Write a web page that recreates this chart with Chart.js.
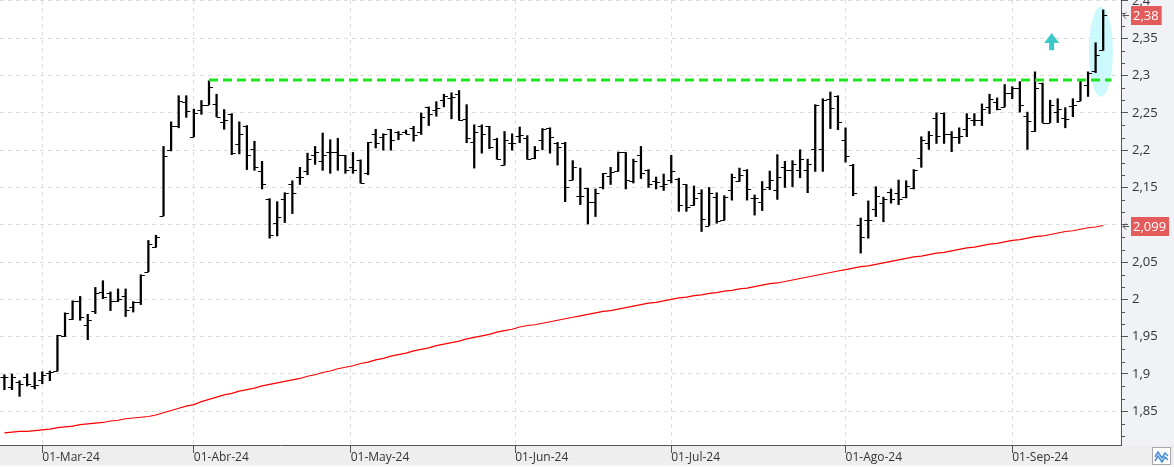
<!DOCTYPE html>
<html>
<head>
<meta charset="utf-8">
<script src="https://cdn.jsdelivr.net/npm/chart.js@4.4.1/dist/chart.umd.min.js"></script>
<style>
html,body{margin:0;padding:0;background:#fff;}
#wrap{width:1174px;height:467px;position:relative;}
</style>
</head>
<body>
<div id="wrap"><canvas id="myChart"></canvas></div>
<script>
// precios diarios (apertura, maximo, minimo, cierre)
var opens = [1.896,1.883,1.889,1.896,1.884,1.892,1.901,1.904,1.951,1.974,1.998,1.966,1.984,2.010,2.009,1.998,2.005,1.990,1.996,2.037,2.070,2.112,2.200,2.232,2.265,2.218,
    2.2545,2.261,2.262,2.2375,2.249,2.208,2.233,2.201,2.172,2.135,2.102,2.135,2.154,2.164,2.172,2.193,2.185,2.197,2.198,2.193,2.178,2.187,2.169,2.222,2.218,2.228,2.225,2.224,2.230,
    2.224,2.258,2.2545,2.267,2.270,2.275,2.242,2.2105,2.233,2.232,2.2155,2.180,2.210,2.2195,2.2165,2.189,2.214,2.230,2.209,2.2095,2.160,2.139,2.149,2.130,2.150,2.165,2.1715,2.197,2.159,
    2.194,2.174,2.159,2.152,2.160,2.161,2.154,2.126,2.142,2.099,2.1375,2.107,2.1465,2.159,2.174,2.136,2.131,2.151,2.1465,2.177,2.174,2.174,2.173,2.202,2.202,2.269,2.272,2.214,2.180,
    2.100,2.107,2.121,2.129,2.144,2.143,2.137,2.149,2.190,2.210,2.243,2.250,2.222,2.218,2.229,2.241,2.241,2.258,2.265,2.258,2.277,2.284,2.246,2.226,2.290,2.237,2.251,2.243,2.259,2.266,2.288,2.306,2.334];
var highs = [1.899,1.900,1.891,1.900,1.902,1.903,1.904,1.952,1.982,1.998,2.004,1.980,2.016,2.025,2.010,2.014,2.014,1.997,2.033,2.079,2.086,2.205,2.238,2.273,2.273,2.255,
    2.2666,2.293,2.275,2.2545,2.249,2.238,2.233,2.212,2.185,2.135,2.131,2.143,2.159,2.177,2.196,2.205,2.223,2.214,2.216,2.193,2.197,2.187,2.2105,2.228,2.222,2.228,2.225,2.227,2.232,
    2.250,2.258,2.265,2.275,2.277,2.280,2.261,2.234,2.234,2.232,2.216,2.225,2.222,2.231,2.2195,2.205,2.229,2.230,2.2105,2.2105,2.186,2.176,2.149,2.148,2.169,2.177,2.1975,2.197,2.188,
    2.205,2.174,2.164,2.168,2.193,2.1625,2.154,2.152,2.147,2.150,2.143,2.139,2.168,2.176,2.174,2.140,2.158,2.172,2.194,2.185,2.186,2.2005,2.188,2.261,2.269,2.278,2.273,2.230,2.181,
    2.109,2.132,2.151,2.137,2.148,2.160,2.159,2.174,2.218,2.225,2.250,2.250,2.225,2.230,2.249,2.249,2.262,2.275,2.270,2.288,2.285,2.292,2.251,2.305,2.290,2.267,2.269,2.257,2.269,2.295,2.305,2.344,2.388];
var lows = [1.879,1.879,1.870,1.884,1.880,1.887,1.891,1.904,1.950,1.973,1.972,1.946,1.981,2.001,1.985,1.997,1.977,1.983,1.993,2.037,2.070,2.112,2.199,2.230,2.244,2.218,
    2.248,2.261,2.245,2.228,2.194,2.195,2.174,2.173,2.148,2.082,2.085,2.103,2.115,2.154,2.167,2.181,2.173,2.169,2.173,2.169,2.169,2.156,2.167,2.203,2.200,2.200,2.214,2.222,2.212,
    2.221,2.233,2.2455,2.258,2.242,2.240,2.210,2.176,2.196,2.202,2.188,2.180,2.200,2.210,2.188,2.1885,2.2005,2.196,2.180,2.131,2.160,2.127,2.101,2.111,2.148,2.154,2.1715,2.148,2.156,
    2.162,2.150,2.148,2.146,2.156,2.118,2.118,2.126,2.091,2.099,2.102,2.106,2.133,2.158,2.133,2.113,2.119,2.147,2.134,2.150,2.151,2.163,2.143,2.1715,2.1715,2.229,2.2275,2.184,2.139,
    2.062,2.082,2.111,2.104,2.129,2.127,2.136,2.148,2.177,2.201,2.209,2.209,2.198,2.209,2.218,2.233,2.233,2.249,2.254,2.258,2.269,2.251,2.201,2.225,2.237,2.237,2.237,2.230,2.245,2.266,2.272,2.304,2.334];
var closes = [1.896,1.896,1.887,1.886,1.885,1.898,1.902,1.952,1.982,1.998,1.977,1.973,2.009,2.003,1.998,2.001,1.986,1.996,2.033,2.074,2.084,2.192,2.233,2.266,2.253,2.250,
    2.261,2.285,2.245,2.241,2.196,2.222,2.193,2.177,2.154,2.086,2.111,2.143,2.143,2.164,2.188,2.198,2.193,2.197,2.193,2.174,2.174,2.156,2.2105,2.209,2.222,2.214,2.222,2.222,2.221,
    2.245,2.249,2.257,2.272,2.2715,2.241,2.2165,2.225,2.222,2.204,2.188,2.214,2.210,2.221,2.188,2.2005,2.229,2.218,2.204,2.150,2.177,2.139,2.130,2.143,2.169,2.171,2.1975,2.160,2.185,
    2.169,2.154,2.157,2.154,2.172,2.127,2.124,2.136,2.108,2.143,2.105,2.137,2.164,2.1665,2.148,2.136,2.148,2.160,2.164,2.173,2.1815,2.1885,2.182,2.261,2.267,2.257,2.238,2.192,2.1425,
    2.083,2.107,2.139,2.135,2.135,2.135,2.152,2.173,2.214,2.221,2.219,2.222,2.218,2.219,2.243,2.241,2.255,2.268,2.255,2.277,2.283,2.261,2.239,2.284,2.237,2.260,2.255,2.242,2.261,2.294,2.304,2.328,2.381];
// media movil (linea roja)
var ma = [1.821,1.822,1.823,1.823,1.824,1.825,1.826,1.828,1.829,1.830,
    1.832,1.833,1.834,1.835,1.837,1.838,1.840,1.841,1.842,1.843,
    1.845,1.848,1.851,1.854,1.857,1.859,1.863,1.866,1.869,1.872,
    1.874,1.877,1.879,1.881,1.884,1.886,1.888,1.890,1.892,1.894,
    1.897,1.899,1.902,1.904,1.907,1.909,1.911,1.914,1.916,1.919,
    1.921,1.924,1.926,1.928,1.931,1.933,1.935,1.938,1.940,1.942,
    1.944,1.947,1.949,1.951,1.953,1.956,1.958,1.960,1.963,1.965,
    1.966,1.968,1.970,1.972,1.974,1.976,1.978,1.980,1.982,1.984,
    1.985,1.987,1.989,1.991,1.993,1.995,1.996,1.998,2.000,2.002,
    2.003,2.005,2.006,2.008,2.009,2.011,2.012,2.014,2.015,2.017,
    2.019,2.021,2.022,2.024,2.026,2.028,2.030,2.032,2.034,2.036,
    2.038,2.040,2.042,2.044,2.045,2.047,2.049,2.051,2.053,2.055,
    2.057,2.058,2.060,2.062,2.063,2.065,2.067,2.069,2.070,2.072,
    2.074,2.075,2.077,2.079,2.080,2.082,2.084,2.085,2.087,2.089,
    2.091,2.092,2.094,2.096,2.097,2.099];
var monthIdx = [5, 25, 45.7, 67.4, 88, 111, 133];//primer dia de cada mes
var monthLabels = ['01-Mar-24', '01-Abr-24', '01-May-24', '01-Jun-24', '01-Jul-24', '01-Ago-24', '01-Sep-24'];
var resistance = 2.294;//linea verde
var resFrom = 27;
var resTo = 146.1;
var yMin = 1.8048;
var yMax = 2.4013;
var xMin = -0.58;
var xMax = 147.35;

var hl = [];
var maPts = [];
for (var i = 0; i < highs.length; i++) {
    hl.push({x: i, y: [lows[i], highs[i]]});
    maPts.push({x: i, y: ma[i]});
}

function fmt(v) {
    return String(Math.round(v * 100) / 100).replace('.', ',');
}

var extras = {
    id: 'extras',
    beforeDraw: function (chart) {
        var ctx = chart.ctx, a = chart.chartArea;
        ctx.save();
        ctx.fillStyle = '#f1f2f5';
        ctx.fillRect(a.right, 0, chart.width - a.right, chart.height);
        ctx.fillStyle = '#eeeeee';
        ctx.fillRect(0, a.bottom, chart.width, chart.height - a.bottom);
        ctx.fillStyle = '#fafafa';
        ctx.fillRect(0, chart.height - 2, chart.width, 2);
        ctx.restore();
    },
    beforeDatasetsDraw: function (chart) {
        var ctx = chart.ctx, xs = chart.scales.x, ys = chart.scales.y;
        // elipse celeste sobre las ultimas velas
        ctx.save();
        ctx.fillStyle = '#ccf9fd';
        ctx.beginPath();
        ctx.ellipse(xs.getPixelForValue(144.7), ys.getPixelForValue(2.332), 12, 45, 0, 0, Math.PI * 2);
        ctx.fill();
        ctx.restore();
    },
    afterDatasetDraw: function (chart, args) {
        if (args.index !== 0) return;
        var ctx = chart.ctx, xs = chart.scales.x, ys = chart.scales.y;
        ctx.save();
        ctx.strokeStyle = '#000';
        ctx.lineWidth = 1.2;
        ctx.beginPath();
        for (var i = 0; i < opens.length; i++) {
            var x = xs.getPixelForValue(i);
            var yo = Math.round(ys.getPixelForValue(opens[i])) + 0.5;
            var yc = Math.round(ys.getPixelForValue(closes[i])) + 0.5;
            ctx.moveTo(x - 4, yo); ctx.lineTo(x, yo);
            ctx.moveTo(x, yc); ctx.lineTo(x + 4, yc);
        }
        ctx.stroke();
        ctx.restore();
    },
    afterDatasetsDraw: function (chart) {
        var ctx = chart.ctx, xs = chart.scales.x, ys = chart.scales.y;
        // flecha hacia arriba
        var ax = xs.getPixelForValue(138.2);
        var top = ys.getPixelForValue(2.357);
        var bot = ys.getPixelForValue(2.334);
        ctx.save();
        ctx.fillStyle = '#3cc8c8';
        ctx.beginPath();
        ctx.moveTo(ax, top);
        ctx.lineTo(ax + 7.5, top + 10);
        ctx.lineTo(ax + 2.5, top + 10);
        ctx.lineTo(ax + 2.5, bot);
        ctx.lineTo(ax - 2.5, bot);
        ctx.lineTo(ax - 2.5, top + 10);
        ctx.lineTo(ax - 7.5, top + 10);
        ctx.closePath();
        ctx.fill();
        ctx.restore();
    },
    afterDraw: function (chart) {
        var ctx = chart.ctx, a = chart.chartArea, ys = chart.scales.y;
        ctx.save();
        // marcas menores del eje y
        ctx.strokeStyle = '#555';
        ctx.lineWidth = 1;
        ctx.beginPath();
        for (var k = Math.ceil(yMin * 60); k <= Math.floor(yMax * 60); k++) {
            if (k % 3 === 0) continue;
            var y = Math.round(ys.getPixelForValue(k / 60)) + 0.5;
            ctx.moveTo(a.right, y); ctx.lineTo(a.right + 4, y);
        }
        ctx.stroke();

        function priceBox(v, txt) {
            var y = Math.round(ys.getPixelForValue(v));
            ctx.font = '13px "Open Sans"';
            var w = ctx.measureText(txt).width + 5;
            ctx.fillStyle = '#e35b5b';
            ctx.fillRect(a.right + 10, y - 9, w, 19);
            ctx.fillStyle = '#fff';
            ctx.textBaseline = 'middle';
            ctx.textAlign = 'left';
            ctx.fillText(txt, a.right + 12, y + 1);
            ctx.strokeStyle = '#555';
            ctx.beginPath();
            ctx.moveTo(a.right + 2, y + 0.5); ctx.lineTo(a.right + 8, y + 0.5);
            ctx.moveTo(a.right + 5, y - 2.5); ctx.lineTo(a.right + 2, y + 0.5); ctx.lineTo(a.right + 5, y + 3.5);
            ctx.stroke();
        }
        priceBox(closes[closes.length - 1], closes[closes.length - 1].toFixed(2).replace('.', ','));
        priceBox(ma[ma.length - 1], ma[ma.length - 1].toFixed(3).replace('.', ','));

        // boton abajo a la derecha
        ctx.fillStyle = '#fff';
        ctx.fillRect(1152.5, 447.5, 18, 17);
        ctx.strokeStyle = '#a8a8a8';
        ctx.strokeRect(1152.5, 447.5, 18, 17);
        ctx.strokeStyle = '#4a90d9';
        ctx.lineWidth = 1.5;
        ctx.beginPath();
        ctx.moveTo(1155, 457); ctx.lineTo(1158, 452); ctx.lineTo(1162, 458); ctx.lineTo(1165, 453); ctx.lineTo(1168, 456);
        ctx.moveTo(1155, 461); ctx.lineTo(1158, 456); ctx.lineTo(1162, 462); ctx.lineTo(1165, 457); ctx.lineTo(1168, 460);
        ctx.stroke();
        ctx.restore();
    }
};

var ctx = document.getElementById('myChart').getContext('2d');
var myChart = new Chart(ctx, {
    type: 'bar',
    data: {
        datasets: [{
            label: 'ohlc',
            data: hl,
            backgroundColor: '#000',
            borderWidth: 0,
            barThickness: 1.6,
            order: 3
        }, {
            type: 'line',
            label: 'media',
            data: maPts,
            borderColor: '#ff0000',
            borderWidth: 1.2,
            pointRadius: 0,
            tension: 0,
            order: 2
        }, {
            type: 'line',
            label: 'resistencia',
            data: [{x: resFrom, y: resistance}, {x: resTo, y: resistance}],
            borderColor: '#1ee61e',
            borderWidth: 3,
            borderDash: [9, 5],
            pointRadius: 0,
            order: 1
        }]
    },
    options: {
        responsive: true,
        maintainAspectRatio: false,
        animation: false,
        layout: {padding: 0},
        plugins: {
            legend: {display: false},
            tooltip: {enabled: false}
        },
        scales: {
            x: {
                type: 'linear',
                min: xMin,
                max: xMax,
                offset: false,
                afterBuildTicks: function (scale) {
                    scale.ticks = monthIdx.map(function (v) { return {value: v}; });
                },
                afterFit: function (scale) {
                    scale.height = 22;
                    scale.paddingLeft = 0;
                    scale.paddingRight = 0;
                },
                grid: {
                    offset: false,
                    color: '#dddddd',
                    tickColor: '#555',
                    tickLength: 8
                },
                border: {color: '#555', dash: [4, 4]},
                ticks: {
                    autoSkip: false,
                    maxRotation: 0,
                    align: 'start',
                    padding: -3,
                    color: '#333',
                    font: {family: 'Open Sans', size: 12},
                    callback: function (v) { return monthLabels[monthIdx.indexOf(v)]; }
                }
            },
            y: {
                position: 'right',
                min: yMin,
                max: yMax,
                afterFit: function (scale) {
                    scale.width = 53;
                    scale.paddingTop = 0;
                    scale.paddingBottom = 0;
                },
                grid: {
                    color: '#dddddd',
                    tickColor: '#555',
                    tickLength: 7
                },
                border: {color: '#555', dash: [4, 4]},
                ticks: {
                    stepSize: 0.05,
                    includeBounds: false,
                    padding: 4,
                    color: '#333',
                    font: {family: 'Open Sans', size: 13},
                    callback: function (v) { return fmt(v); }
                }
            }
        }
    },
    plugins: [extras]
});
</script>
</body>
</html>
